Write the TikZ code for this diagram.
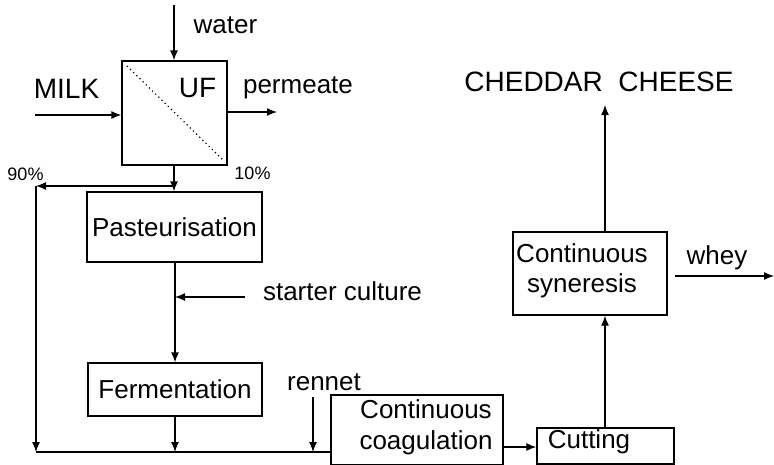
\documentclass[tikz,border=0pt]{standalone}
\usepackage{fontspec}
\setmainfont{Liberation Sans}
\usetikzlibrary{arrows.meta}
\begin{document}
\begin{tikzpicture}[x=1pt,y=-1pt,
  line width=1.3pt,
  txt/.style={inner sep=0pt,font=\fontsize{26}{30}\selectfont},
  bigtxt/.style={inner sep=0pt,font=\fontsize{28}{32}\selectfont},
  smalltxt/.style={inner sep=0pt,font=\fontsize{18}{20}\selectfont},
  box/.style={draw,line width=1.3pt,inner sep=0pt,align=center,font=\fontsize{26}{31}\selectfont},
  arr/.style={-{Latex[length=10pt,width=8pt]}},
  conn/.style={line width=1.3pt}]
\useasboundingbox (0,0) rectangle (774,464);
% boxes
\node[box,minimum width=105pt,minimum height=104pt] (uf) at (174.5,113) {};
\node[box,minimum width=175pt,minimum height=70pt] (past) at (174.5,227) {Pasteurisation};
\node[box,minimum width=174pt,minimum height=53pt] (ferm) at (175,389.5) {Fermentation};
\node[box,minimum width=172pt,minimum height=70pt] (coag) at (417,430) {};
\node[txt,align=center] (coagtxt) at (426,427) {Continuous\\[1pt]coagulation};
\node[box,minimum width=137pt,minimum height=36pt] (cut) at (605.5,446) {};
\node[txt] (cuttxt) at (589,442) {Cutting};
\node[box,minimum width=154pt,minimum height=83pt] (syn) at (590,273.5) {};
\node[txt,align=center] (syntxt) at (582,271) {Continuous\\[0pt]syneresis};
% labels
\node[bigtxt] (uftxt) at (197.5,88) {UF};
\node[bigtxt] (milk) at (66.5,89) {MILK};
\node[txt] (water) at (225.5,25) {water};
\node[txt] (perm) at (298,88) {permeate};
\node[smalltxt] (p10) at (252.5,173) {10\%};
\node[smalltxt] (p90) at (25.5,174) {90\%};
\node[txt] (starter) at (342.5,291) {starter culture};
\node[txt] (rennet) at (324,382) {rennet};
\node[bigtxt] (ched) at (599,82) {CHEDDAR\ \ CHEESE};
\node[txt] (whey) at (717,258) {whey};
% coordinates
\coordinate (wtop) at (174,5);
\coordinate (milkin) at (35,115);
\coordinate (permout) at (277,112);
\coordinate (split) at (174,186);
\coordinate (lft) at (36,186);
\coordinate (lbot) at (36,452);
\coordinate (fbot) at (175,452);
\coordinate (stin) at (245,297);
\coordinate (stj) at (175,297);
\coordinate (rtop) at (313,397);
\coordinate (rbot) at (313,452);
\coordinate (chedarr) at (605,105);
\coordinate (wheyin) at (675,276);
\coordinate (wheyout) at (774,276);
% membrane
\draw[line width=1.2pt,dash pattern=on 1.2pt off 3.2pt] (127,66) -- (223,160);
% connectors
\draw[conn,arr] (wtop) -- (uf.north -| wtop);
\draw[conn,arr] (milkin) -- (uf.west |- milkin);
\draw[conn,arr] (uf.east |- permout) -- (permout);
\draw[conn,arr] (uf.south -| split) -- (past.north -| split);
\draw[conn,arr] (split) -- (lft);
\draw[conn,arr] (lft) -- (lbot);
\draw[conn] (lbot) -- (coag.west |- lbot);
\draw[conn,arr] (past.south -| stj) -- (ferm.north -| stj);
\draw[conn,arr] (stin) -- (stj);
\draw[conn,arr] (ferm.south -| fbot) -- (fbot);
\draw[conn,arr] (rtop) -- (rbot);
\draw[conn,arr] (coag.east |- 0,447) -- (cut.west |- 0,447);
\draw[conn,arr] (cut.north -| chedarr) -- (syn.south -| chedarr);
\draw[conn,arr] (syn.north -| chedarr) -- (chedarr);
\draw[conn,arr] (wheyin) -- (wheyout);
\end{tikzpicture}
\end{document}
